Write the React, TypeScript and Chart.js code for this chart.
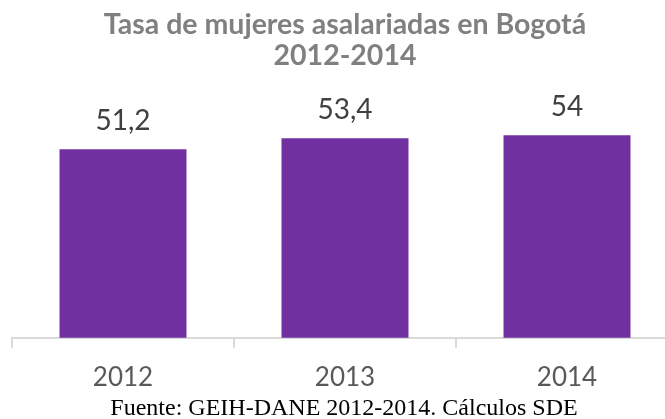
import React, { useEffect, useRef } from "react";
import { Chart, registerables } from "chart.js";

Chart.register(...registerables);

const categories = ["2012", "2013", "2014"];
const values = [51.2, 53.4, 54];
const titleLines = ["Tasa de mujeres asalariadas en Bogotá", "2012-2014"];
const sourceNote = "Fuente: GEIH-DANE 2012-2014. Cálculos SDE";
const yMin = 13.6;
const yMax = 65;

const barColor = "#7030A0";
const axisColor = "#D9D9D9";

const formatValue = (v: number) => String(v).replace(".", ",");

const labelPlugin = {
  id: "barLabels",
  afterDatasetsDraw(chart: any) {
    const ctx = chart.ctx;
    const meta = chart.getDatasetMeta(0);
    ctx.save();
    ctx.font = "28px Lato";
    ctx.fillStyle = "#404040";
    ctx.textAlign = "center";
    ctx.textBaseline = "alphabetic";
    meta.data.forEach((bar: any, i: number) => {
      ctx.fillText(formatValue(values[i]), bar.x, bar.y - 19);
    });
    ctx.restore();
  },
};

export default function App() {
  const canvasRef = useRef<HTMLCanvasElement | null>(null);

  useEffect(() => {
    if (!canvasRef.current) return;
    const chart = new Chart(canvasRef.current, {
      type: "bar",
      data: {
        labels: categories,
        datasets: [
          {
            data: values,
            backgroundColor: barColor,
            borderWidth: 0,
            categoryPercentage: 1,
            barPercentage: 0.572,
          },
        ],
      },
      options: {
        responsive: false,
        animation: false,
        layout: { padding: { left: 12, right: 0, top: 0, bottom: 12 } },
        plugins: {
          legend: { display: false },
          tooltip: { enabled: false },
          title: {
            display: true,
            text: titleLines,
            color: "#808080",
            font: { family: "Lato", size: 28.5, weight: "bold", lineHeight: 31 / 28.5 },
            padding: { top: 9, bottom: 9 },
          },
        },
        scales: {
          x: {
            border: { display: true, color: axisColor, width: 2 },
            grid: {
              display: true,
              drawOnChartArea: false,
              drawTicks: true,
              tickLength: 10,
              color: axisColor,
              lineWidth: 2,
              offset: true,
            },
            ticks: {
              color: "#595959",
              padding: 14,
              font: { family: "Lato", size: 26 },
            },
          },
          y: {
            display: false,
            min: yMin,
            max: yMax,
          },
        },
      },
      plugins: [labelPlugin],
    });
    return () => chart.destroy();
  }, []);

  return (
    <div
      style={{
        position: "fixed",
        left: 0,
        top: 0,
        width: 665,
        height: 419,
        overflow: "hidden",
        background: "#ffffff",
      }}
    >
      <canvas
        ref={canvasRef}
        width={678}
        height={419}
        style={{ width: 678, height: 419, display: "block" }}
      />
      <div
        style={{
          position: "absolute",
          left: 0,
          top: 397,
          width: 688,
          textAlign: "center",
          fontFamily: "'Liberation Serif', serif",
          fontSize: 24,
          lineHeight: "20px",
          color: "#000000",
          whiteSpace: "nowrap",
        }}
      >
        {sourceNote}
      </div>
    </div>
  );
}
